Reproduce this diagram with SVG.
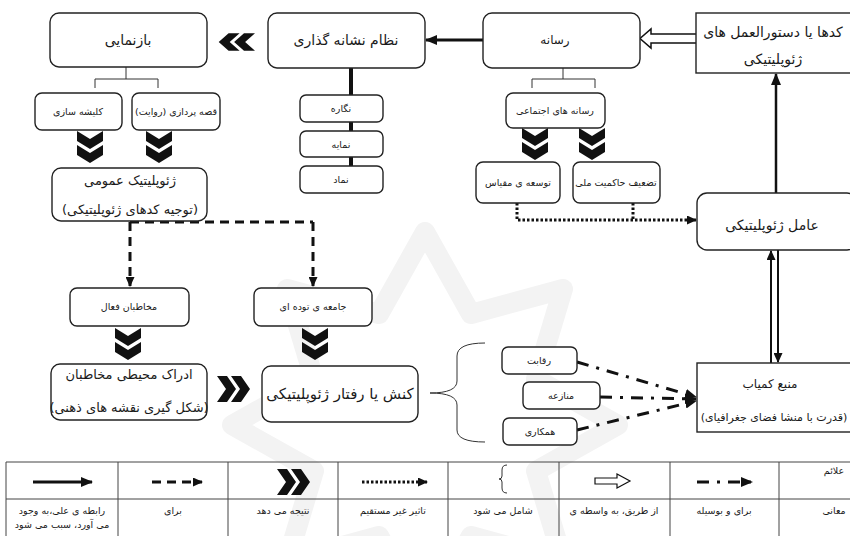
<svg xmlns="http://www.w3.org/2000/svg" width="850" height="536" viewBox="0 0 850 536">
<style>
text{font-family:"DejaVu Sans","Noto Sans",sans-serif;fill:#1a1a1a;direction:rtl;text-anchor:middle}
.box{fill:#fff;stroke:#222;stroke-width:1.4}
.t10{font-size:9.5px}.t11{font-size:11px}.t12{font-size:12px}.t13{font-size:13px}.t14{font-size:14px}.t15{font-size:15px}
.thick{stroke:#111;stroke-width:3;fill:none}
.thin{stroke:#333;stroke-width:1;fill:none}
.dash{stroke:#111;stroke-width:3;fill:none;stroke-dasharray:9 6}
.dot{stroke:#111;stroke-width:3;fill:none;stroke-dasharray:2.5 2}
.dd{stroke:#111;stroke-width:3;fill:none;stroke-dasharray:12 8 3 8}
.chev{fill:#111}
.grid{stroke:#444;stroke-width:1;fill:none}
.wm{fill:none;stroke:#f3f3f3;stroke-width:20;stroke-linejoin:round}
</style>
<defs>
<marker id="ah" markerUnits="userSpaceOnUse" markerWidth="12" markerHeight="10" refX="11" refY="5" orient="auto"><path d="M0,0 L12,5 L0,10 z" fill="#111"/></marker>
<marker id="ahs" markerUnits="userSpaceOnUse" markerWidth="10" markerHeight="9" refX="9" refY="4.5" orient="auto"><path d="M0,0 L10,4.5 L0,9 z" fill="#111"/></marker>
<g id="chevD"><polygon points="-13,0 0,8 13,0 13,10 0,18 -13,10"/><polygon points="-13,14 0,22 13,14 13,24 0,32 -13,24"/></g>
<g id="chevR"><polygon points="0,-13 10,-13 19,0 10,13 0,13 9,0"/><polygon points="14,-13 24,-13 33,0 24,13 14,13 23,0"/></g>
</defs>
<rect width="850" height="536" fill="#fff"/>
<g id="watermark">
<polygon class="wm" points="425,232 471,314 563,289 536,379 618,425 536,471 563,561 471,536 425,618 379,536 287,561 314,471 232,425 314,379 287,289 379,314"/>
</g>
<g id="connectors">
<path class="thick" d="M483,40 H426" marker-end="url(#ah)"/>
<path d="M696,34 H651 V29 L640,38.5 L651,48 V43 H696" fill="#fff" stroke="#111" stroke-width="1.5"/>
<path stroke="#111" stroke-width="2.5" fill="none" d="M776,193 V74" marker-end="url(#ah)"/>
<path stroke="#111" stroke-width="2" fill="none" d="M771,363 V251" marker-end="url(#ahs)"/>
<path stroke="#111" stroke-width="2" fill="none" d="M778,250 V362" marker-end="url(#ahs)"/>
<path stroke="#111" stroke-width="4" fill="none" d="M351,68 V166"/>
<path class="thin" d="M126,67 V79 M95,88 V79 H158 V88"/>
<path class="thin" d="M563,68 V79 M532,88 V79 H595 V88"/>
<path class="dot" d="M517,203 V220 H696" marker-end="url(#ahs)"/>
<path class="dot" d="M633,203 V220"/>
<path class="dash" d="M130,222 H313"/>
<path class="dash" d="M130,222 V286" marker-end="url(#ahs)"/>
<path class="dash" d="M313,222 V286" marker-end="url(#ahs)"/>
<path class="thin" d="M485,343 Q457,343 457,356 V381 Q457,393 430,393 Q457,393 457,405 V430 Q457,442 485,442"/>
<path class="dd" d="M577,362 L696,397" marker-end="url(#ah)"/>
<path class="dd" d="M600,397 L696,399" marker-end="url(#ah)"/>
<path class="dd" d="M577,430 L696,401" marker-end="url(#ah)"/>
<g class="chev">
<use href="#chevD" x="90" y="131"/>
<use href="#chevD" x="159" y="131"/>
<use href="#chevD" x="535" y="128"/>
<use href="#chevD" x="592" y="128"/>
<use href="#chevD" x="128" y="328"/>
<use href="#chevD" x="315" y="328"/>
<use href="#chevR" transform="translate(217,389)"/>
<use href="#chevR" transform="translate(255,42) scale(-1.1,0.68)"/>
</g>
</g>
<g id="n-baznamayi"><rect class="box" x="50" y="13" width="157" height="54" rx="9"/><text class="t14" x="128" y="45">بازنمایی</text></g>
<g id="n-nezam"><rect class="box" x="268" y="13" width="157" height="55" rx="9"/><text class="t14" x="346" y="45">نظام نشانه گذاری</text></g>
<g id="n-resane"><rect class="box" x="483" y="13" width="157" height="55" rx="9"/><text class="t12" x="555" y="44">رسانه</text></g>
<g id="n-codes"><rect class="box" x="696" y="13" width="160" height="60"/><text class="t14" x="773" y="37">کدها یا دستورالعمل های</text><text class="t14" x="773" y="64">ژئوپلیتیکی</text></g>
<g id="n-ghesse"><rect class="box" x="132" y="93" width="88" height="37" rx="7"/><text class="t10" x="176" y="115">قصه پردازی (روایت)</text></g>
<g id="n-klishe"><rect class="box" x="35" y="93" width="87" height="37" rx="7"/><text class="t10" x="78" y="115">کلیشه سازی</text></g>
<g id="n-omumi"><rect class="box" x="52" y="168" width="155" height="53" rx="9"/><text class="t13" x="130" y="185">ژئوپلیتیک عمومی</text><text class="t13" x="130" y="214">(توجیه کدهای ژئوپلیتیکی)</text></g>
<g id="n-negare"><rect class="box" x="300" y="95" width="83" height="27" rx="6"/><text class="t10" x="341" y="112">نگاره</text></g>
<g id="n-namaye"><rect class="box" x="300" y="131" width="83" height="26" rx="6"/><text class="t10" x="341" y="148">نمایه</text></g>
<g id="n-namad"><rect class="box" x="300" y="166" width="83" height="27" rx="6"/><text class="t10" x="341" y="183">نماد</text></g>
<g id="n-ejtemaei"><rect class="box" x="506" y="93" width="99" height="35" rx="7"/><text class="t10" x="555" y="114">رسانه های اجتماعی</text></g>
<g id="n-tosee"><rect class="box" x="476" y="162" width="84" height="41" rx="7"/><text class="t10" x="518" y="186">توسعه ی مقیاس</text></g>
<g id="n-tazif"><rect class="box" x="573" y="162" width="87" height="41" rx="7"/><text class="t10" x="616" y="186">تضعیف حاکمیت ملی</text></g>
<g id="n-amel"><rect class="box" x="697" y="193" width="160" height="57" rx="10"/><text class="t14" x="772" y="230">عامل ژئوپلیتیکی</text></g>
<g id="n-mokhatab"><rect class="box" x="70" y="288" width="119" height="38" rx="7"/><text class="t10" x="129" y="310">مخاطبان فعال</text></g>
<g id="n-jamee"><rect class="box" x="254" y="288" width="118" height="38" rx="7"/><text class="t10" x="313" y="310">جامعه ی توده ای</text></g>
<g id="n-edrak"><rect class="box" x="51" y="364" width="156" height="56" rx="9"/><text class="t13" x="129" y="379">ادراک محیطی مخاطبان</text><text class="t13" x="129" y="412">(شکل گیری نقشه های ذهنی)</text></g>
<g id="n-konesh"><rect class="box" x="262" y="366" width="156" height="56" rx="9"/><text class="t15" x="340" y="399">کنش یا رفتار ژئوپلیتیکی</text></g>
<g id="n-reghabat"><rect class="box" x="502" y="347" width="75" height="27" rx="6"/><text class="t10" x="539" y="364">رقابت</text></g>
<g id="n-monazee"><rect class="box" x="523" y="382" width="77" height="27" rx="6"/><text class="t10" x="561" y="399">منازعه</text></g>
<g id="n-hamkari"><rect class="box" x="503" y="418" width="74" height="27" rx="6"/><text class="t10" x="540" y="435">همکاری</text></g>
<g id="n-manba"><rect class="box" x="697" y="363" width="160" height="69"/><text class="t12" x="770" y="388">منبع کمیاب</text><text class="t11" x="774" y="421">(قدرت با منشا فضای جغرافیای)</text></g>
<g id="legend">
<path class="grid" d="M6,462 H850 M6,499 H850 M6,462 V536 M118,462 V536 M228,462 V536 M338,462 V536 M448,462 V536 M559,462 V536 M670,462 V536 M779,462 V536"/>
<path class="thick" d="M33,482 H92" marker-end="url(#ah)"/>
<path class="dash" d="M152,482 H202" marker-end="url(#ahs)"/>
<use class="chev" href="#chevR" transform="translate(277,482)"/>
<path class="dot" d="M362,482 H427" marker-end="url(#ahs)"/>
<path class="thin" d="M507,465 Q502,465 502,470 V476 Q502,479 499,479 Q502,479 502,482 V488 Q502,493 507,493"/>
<path d="M595,478 H617 V474 L630,481 L617,488 V484 H595 z" fill="#fff" stroke="#111" stroke-width="1.2"/>
<path class="dd" d="M697,482 H752" marker-end="url(#ah)"/>
<text class="t10" x="834" y="474">علائم</text>
<text class="t10" x="62" y="514">رابطه ی علی،به وجود</text>
<text class="t10" x="62" y="528">می آورد، سبب می شود</text>
<text class="t10" x="173" y="514">برای</text>
<text class="t10" x="283" y="514">نتیجه می دهد</text>
<text class="t10" x="393" y="514">تاثیر غیر مستقیم</text>
<text class="t10" x="503" y="514">شامل می شود</text>
<text class="t10" x="614" y="514">از طریق، به واسطه ی</text>
<text class="t10" x="724" y="514">برای و بوسیله</text>
<text class="t10" x="834" y="514">معانی</text>
</g>
</svg>
